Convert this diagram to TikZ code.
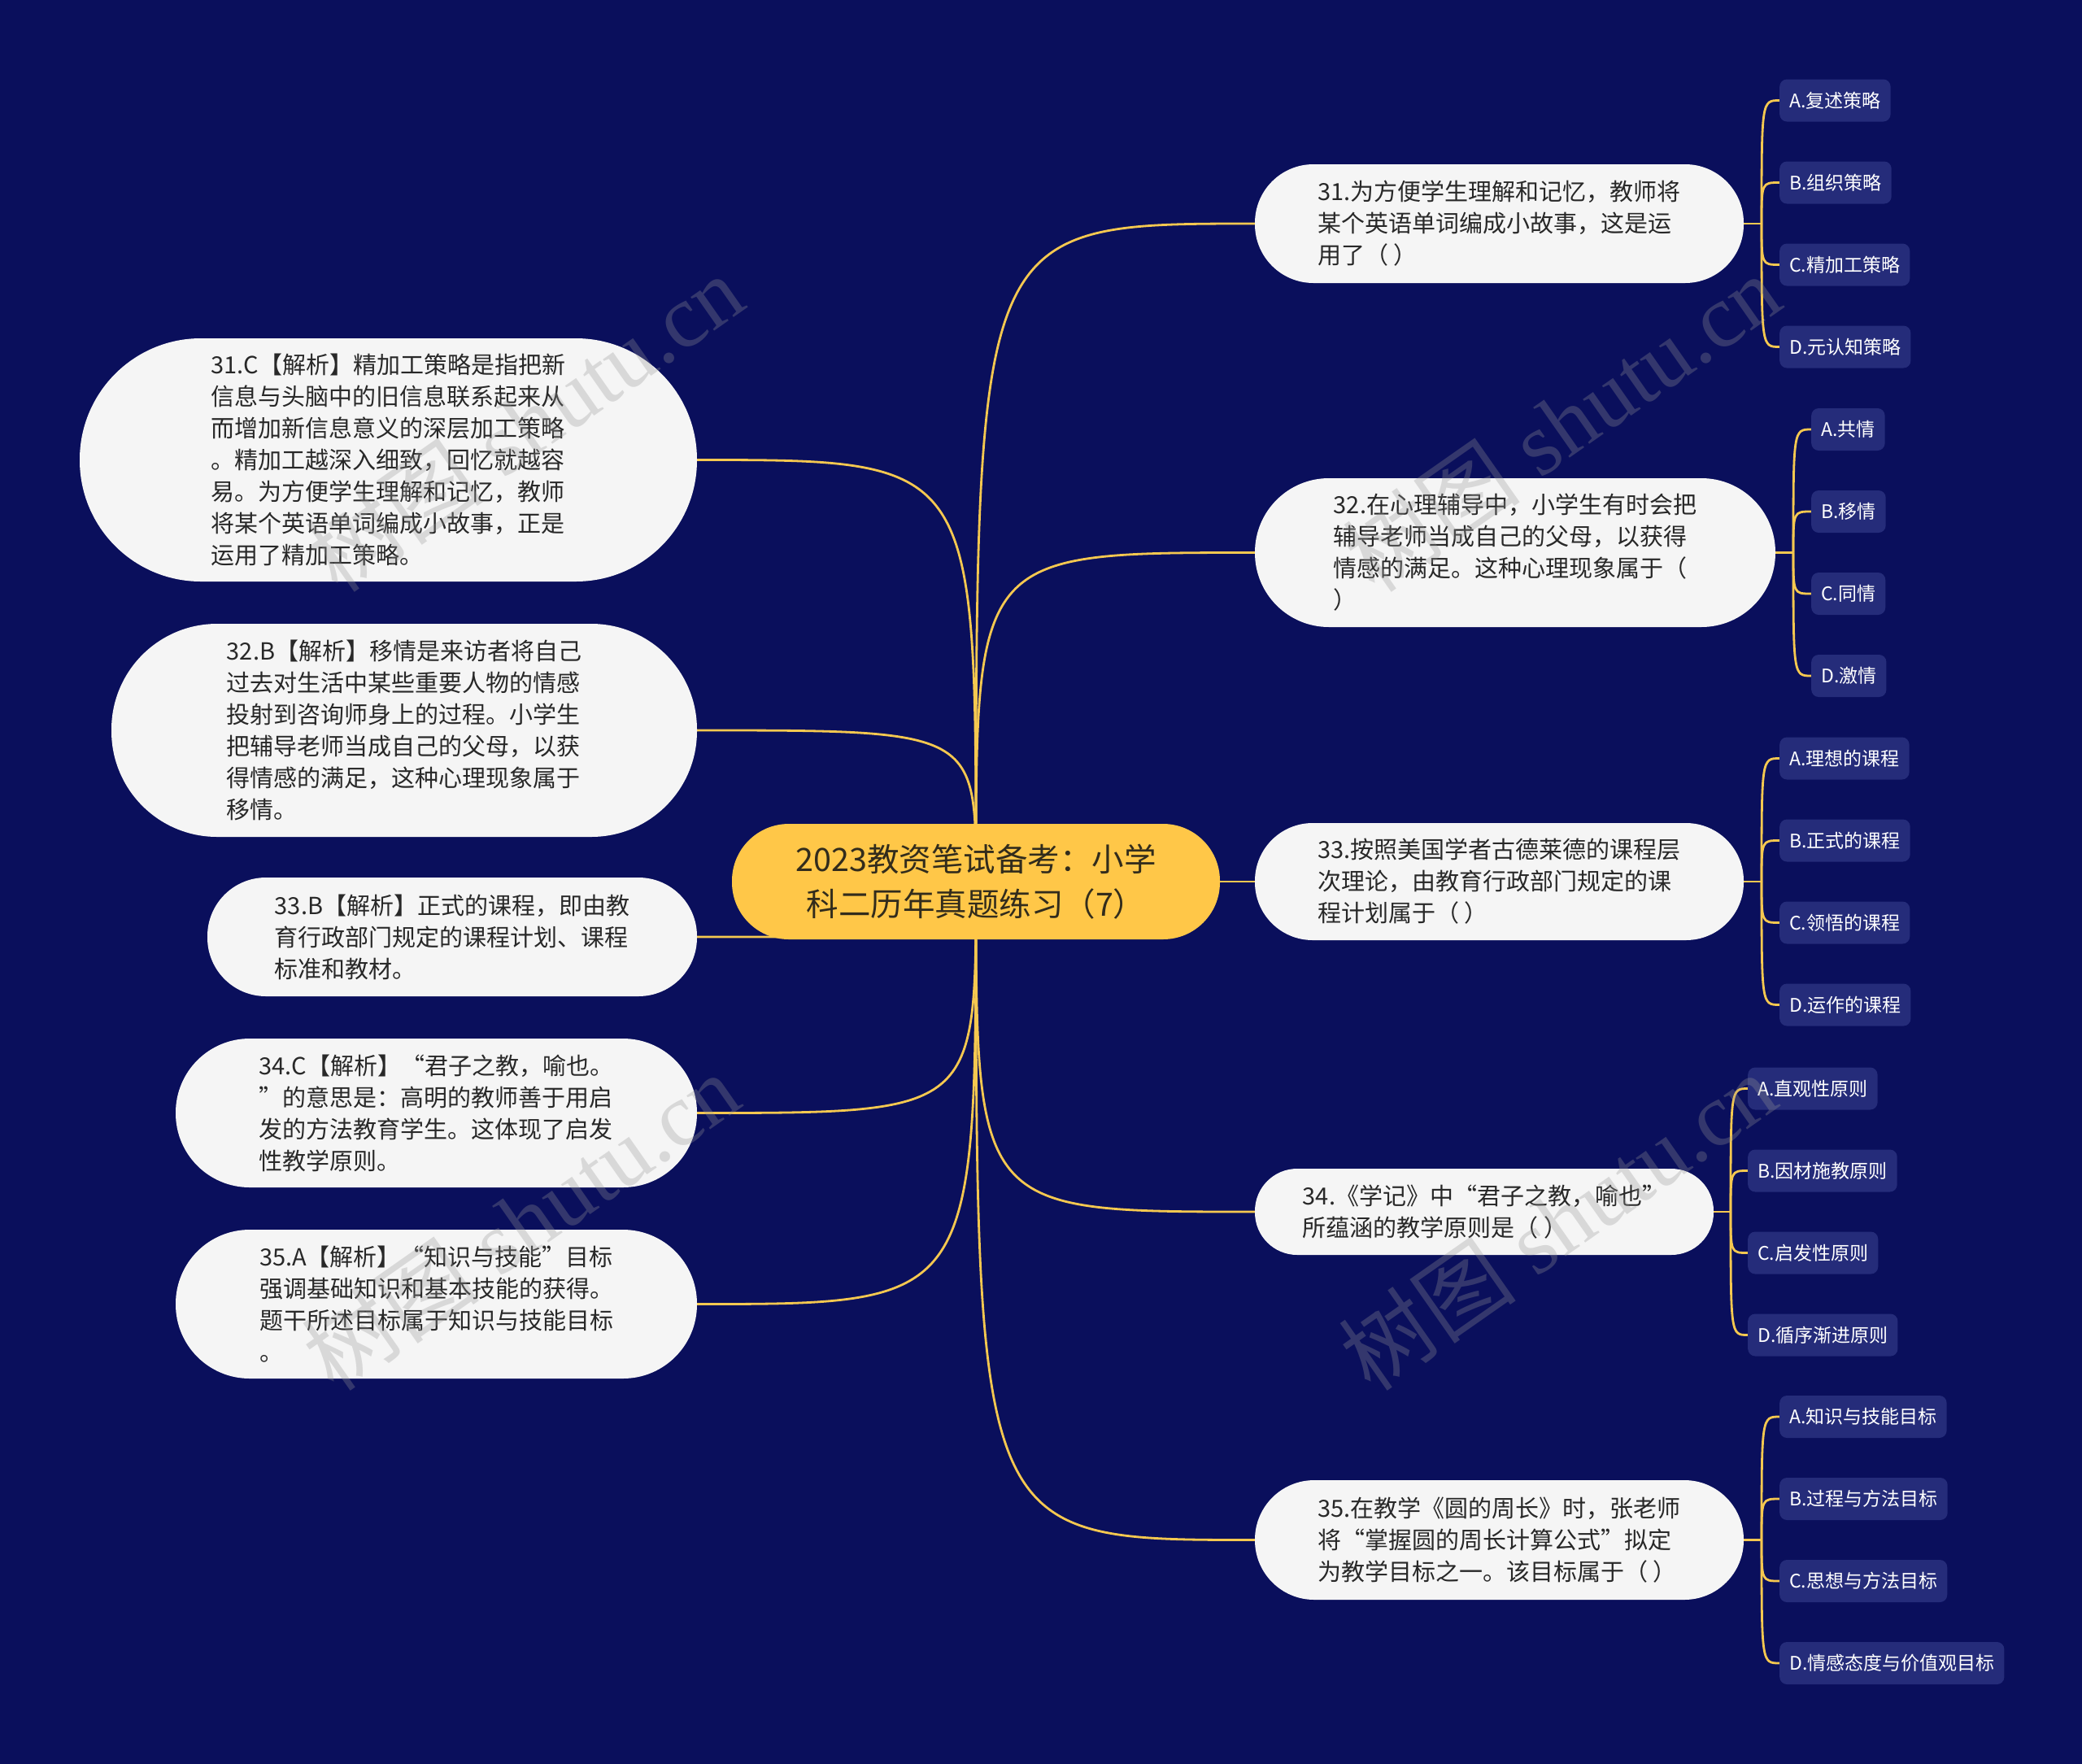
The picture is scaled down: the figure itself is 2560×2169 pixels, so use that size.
\documentclass[tikz,border=0pt]{standalone}
\usepackage{fontspec}
\setmainfont{Noto Sans CJK SC}
\newfontfamily\wmlatin{Liberation Serif}
\newfontfamily\wmcjk{Noto Sans CJK SC}
\definecolor{bgcol}{RGB}{10,15,92}
\definecolor{rootfill}{RGB}{255,199,72}
\definecolor{roottext}{RGB}{50,44,28}
\definecolor{nodefill}{RGB}{245,245,245}
\definecolor{nodetext}{RGB}{40,40,40}
\definecolor{optfill}{RGB}{37,44,122}
\definecolor{linkcol}{RGB}{245,200,80}
\definecolor{wmcol}{RGB}{150,150,150}
\pgfdeclarelayer{back}
\pgfdeclarelayer{edges}
\pgfsetlayers{back,edges,main}
\begin{document}
\begin{tikzpicture}[x=1pt,y=-1pt,
  root/.style={fill=rootfill,text=roottext,font=\fontsize{39.5}{55}\selectfont,align=center,
    minimum width=600pt,minimum height=142pt,rounded corners=70pt,inner sep=0pt},
  qbox/.style={fill=nodefill,text=nodetext,font=\fontsize{29}{39}\selectfont,align=left,inner sep=0pt},
  opt/.style={fill=optfill,text=white,font=\fontsize{23}{28}\selectfont,anchor=west,
    minimum height=52pt,inner xsep=12pt,inner ysep=0pt,rounded corners=9pt},
  link/.style={draw=linkcol,line width=2.8pt},
  wm/.style={text=wmcol,opacity=0.3,rotate=35,font=\fontsize{110}{110}\wmlatin}]
\useasboundingbox (0,0) rectangle (2560,2169);
\begin{pgfonlayer}{back}
\fill[bgcol] (0,0) rectangle (2560,2169);
\end{pgfonlayer}

% root
\node[root] (root) at (1200,1084) {2023教资笔试备考：小学\\科二历年真题练习（7）};

% questions
\node[qbox,minimum width=601pt,minimum height=146pt,rounded corners=72pt] (q31) at (1843.5,275)
  {31.为方便学生理解和记忆，教师将\\某个英语单词编成小故事，这是运\\用了（ ）};
\node[qbox,minimum width=640pt,minimum height=183pt,rounded corners=91pt] (q32) at (1863,679.5)
  {32.在心理辅导中，小学生有时会把\\辅导老师当成自己的父母，以获得\\情感的满足。这种心理现象属于（\\）};
\node[qbox,minimum width=601pt,minimum height=144pt,rounded corners=71pt] (q33) at (1843.5,1084)
  {33.按照美国学者古德莱德的课程层\\次理论，由教育行政部门规定的课\\程计划属于（ ）};
\node[qbox,minimum width=564pt,minimum height=106pt,rounded corners=52pt] (q34) at (1825,1490)
  {34.《学记》中“君子之教，喻也”\\所蕴涵的教学原则是（ ）};
\node[qbox,minimum width=601pt,minimum height=147pt,rounded corners=73pt] (q35) at (1843.5,1893.5)
  {35.在教学《圆的周长》时，张老师\\将“掌握圆的周长计算公式”拟定\\为教学目标之一。该目标属于（ ）};

% answers
\node[qbox,minimum width=759pt,minimum height=299pt,rounded corners=149pt] (a31) at (477.5,565.5)
  {31.C【解析】精加工策略是指把新\\信息与头脑中的旧信息联系起来从\\而增加新信息意义的深层加工策略\\。精加工越深入细致，回忆就越容\\易。为方便学生理解和记忆，教师\\将某个英语单词编成小故事，正是\\运用了精加工策略。};
\node[qbox,minimum width=720pt,minimum height=262pt,rounded corners=130pt] (a32) at (497,898)
  {32.B【解析】移情是来访者将自己\\过去对生活中某些重要人物的情感\\投射到咨询师身上的过程。小学生\\把辅导老师当成自己的父母，以获\\得情感的满足，这种心理现象属于\\移情。};
\node[qbox,minimum width=602pt,minimum height=146pt,rounded corners=72pt] (a33) at (556,1152)
  {33.B【解析】正式的课程，即由教\\育行政部门规定的课程计划、课程\\标准和教材。};
\node[qbox,minimum width=641pt,minimum height=183pt,rounded corners=91pt] (a34) at (536.5,1368.5)
  {34.C【解析】“君子之教，喻也。\\”的意思是：高明的教师善于用启\\发的方法教育学生。这体现了启发\\性教学原则。};
\node[qbox,minimum width=641pt,minimum height=183pt,rounded corners=91pt] (a35) at (536.5,1603.5)
  {35.A【解析】“知识与技能”目标\\强调基础知识和基本技能的获得。\\题干所述目标属于知识与技能目标\\。};

% options
\node[opt] (o31a) at (2188,123.5) {A.复述策略};
\node[opt] (o31b) at (2188,224.5) {B.组织策略};
\node[opt] (o31c) at (2188,325.5) {C.精加工策略};
\node[opt] (o31d) at (2188,426.5) {D.元认知策略};

\node[opt] (o32a) at (2227,528) {A.共情};
\node[opt] (o32b) at (2227,629) {B.移情};
\node[opt] (o32c) at (2227,730) {C.同情};
\node[opt] (o32d) at (2227,831) {D.激情};

\node[opt] (o33a) at (2188,932.5) {A.理想的课程};
\node[opt] (o33b) at (2188,1033.5) {B.正式的课程};
\node[opt] (o33c) at (2188,1134.5) {C.领悟的课程};
\node[opt] (o33d) at (2188,1235.5) {D.运作的课程};

\node[opt] (o34a) at (2149,1338.5) {A.直观性原则};
\node[opt] (o34b) at (2149,1439.5) {B.因材施教原则};
\node[opt] (o34c) at (2149,1540.5) {C.启发性原则};
\node[opt] (o34d) at (2149,1641.5) {D.循序渐进原则};

\node[opt] (o35a) at (2188,1742) {A.知识与技能目标};
\node[opt] (o35b) at (2188,1843) {B.过程与方法目标};
\node[opt] (o35c) at (2188,1944) {C.思想与方法目标};
\node[opt] (o35d) at (2188,2045) {D.情感态度与价值观目标};

% junctions
\coordinate (j31) at (2166,275);
\coordinate (j32) at (2205,679.5);
\coordinate (j33) at (2166,1084);
\coordinate (j34) at (2128,1490);
\coordinate (j35) at (2166,1893.5);

\begin{pgfonlayer}{edges}
% root to questions
\draw[link] (root.center) .. controls (root.center |- q31.west) .. (q31.west);
\draw[link] (root.center) .. controls (root.center |- q32.west) .. (q32.west);
\draw[link] (root.center) -- (q33.west);
\draw[link] (root.center) .. controls (root.center |- q34.west) .. (q34.west);
\draw[link] (root.center) .. controls (root.center |- q35.west) .. (q35.west);
% root to answers
\draw[link] (root.center) .. controls (root.center |- a31.east) .. (a31.east);
\draw[link] (root.center) .. controls (root.center |- a32.east) .. (a32.east);
\draw[link] (root.center) .. controls (root.center |- a33.east) .. (a33.east);
\draw[link] (root.center) .. controls (root.center |- a34.east) .. (a34.east);
\draw[link] (root.center) .. controls (root.center |- a35.east) .. (a35.east);
% questions to options
\foreach \q in {31,32,33,34,35}{
  \draw[link] (q\q.east) -- (j\q);
  \foreach \o in {a,b,c,d}{
    \draw[link] (j\q) .. controls (j\q |- o\q\o.west) .. (o\q\o.west);
  }
}
\end{pgfonlayer}

% watermarks
\node[wm] (wm1) at (645,520) {{\wmcjk 树图} shutu.cn};
\node[wm] (wm2) at (1920,520) {{\wmcjk 树图} shutu.cn};
\node[wm] (wm3) at (640,1502) {{\wmcjk 树图} shutu.cn};
\node[wm] (wm4) at (1915,1502) {{\wmcjk 树图} shutu.cn};
\end{tikzpicture}
\end{document}
